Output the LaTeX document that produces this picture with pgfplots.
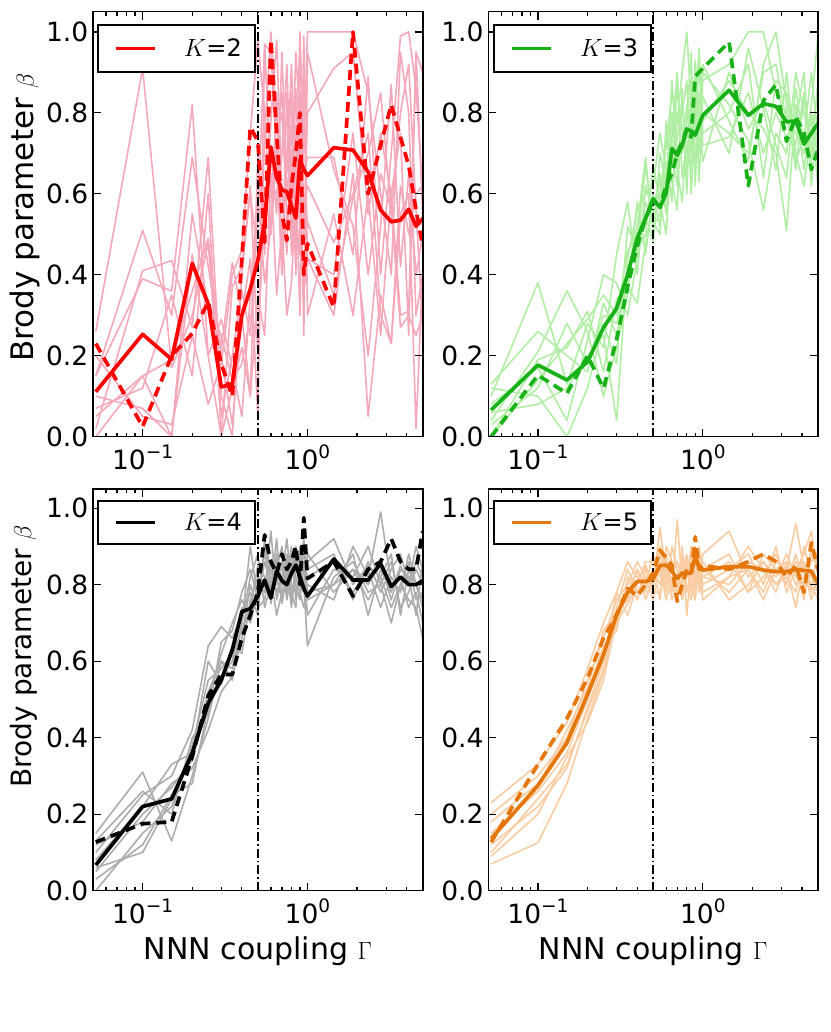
\documentclass[border=0pt]{standalone}
\usepackage{fontspec}
\setmainfont{DejaVu Sans}
\usepackage{pgfplots}
\usepackage{pgfplotstable}
\pgfplotsset{compat=1.18}

\definecolor{kred}{RGB}{255,0,0}
\definecolor{kpink}{RGB}{244,168,186}
\definecolor{kgreen}{RGB}{24,178,24}
\definecolor{klgreen}{RGB}{176,238,164}
\definecolor{kgray}{RGB}{172,172,172}
\definecolor{korange}{RGB}{228,118,10}
\definecolor{kpeach}{RGB}{250,204,162}

\newcommand{\tensup}[1]{10\raisebox{0.42em}{\fontsize{18.5}{18.5}\selectfont #1}}

% K = 2
\pgfplotstableread[header=false]{
x 0.052 0.1 0.15 0.2 0.25 0.3 0.35 0.4 0.45 0.5 0.55 0.6 0.65 0.7 0.75 0.8 0.85 0.9 0.95 1.0 1.444 1.889 2.333 2.778 3.222 3.667 4.111 4.556 5.0
m 0.111 0.253 0.191 0.428 0.328 0.123 0.130 0.30 0.365 0.436 0.53 0.716 0.64 0.61 0.605 0.57 0.54 0.685 0.66 0.645 0.714 0.708 0.654 0.56 0.531 0.535 0.562 0.520 0.539
d 0.23 0.025 0.20 0.255 0.333 0.18 0.10 0.44 0.765 0.73 0.48 0.98 0.75 0.55 0.485 0.62 0.70 0.80 0.40 0.477 0.32 1.0 0.60 0.72 0.82 0.74 0.67 0.56 0.47
t1 0.26 0.91 0.17 0.30 0.48 0.05 0.20 0.36 0.25 0.55 0.97 0.95 0.70 0.85 0.65 0.92 0.60 1.0 0.70 1.0 1.0 1.0 0.85 0.60 0.40 0.95 0.80 0.30 0.40
t2 0.15 0.51 0.30 0.69 0.42 0.22 0.43 0.30 0.10 0.70 0.45 0.78 0.98 0.60 0.45 0.80 0.47 0.96 0.65 0.69 0.69 0.45 0.89 0.40 0.70 0.99 1.0 0.86 0.60
t3 0.02 0.41 0.435 0.27 0.69 0.10 0.00 0.40 0.62 0.20 0.75 1.0 0.75 0.80 0.55 0.60 0.95 0.78 0.50 0.80 0.91 0.95 0.55 0.75 0.60 0.30 0.31 0.95 0.90
t4 0.15 0.39 0.36 0.82 0.20 0.29 0.17 0.05 0.35 0.60 0.38 0.52 0.72 0.40 0.85 0.45 0.65 0.30 0.90 0.44 0.30 0.65 0.05 0.35 0.23 0.55 0.60 0.02 0.41
t5 0.05 0.15 0.00 0.45 0.20 0.00 0.37 0.42 0.60 0.45 0.60 0.50 0.85 0.45 0.55 0.50 0.77 0.50 0.36 0.44 0.40 0.75 0.40 0.65 0.56 0.27 0.30 0.25 0.30
t6 0.10 0.07 0.00 0.55 0.32 0.25 0.14 0.18 0.30 0.25 0.55 0.70 0.55 0.95 0.60 0.71 0.40 0.85 0.56 0.62 0.48 0.60 0.75 0.30 0.23 0.62 0.50 0.60 0.62
t7 0.00 0.15 0.19 0.36 0.49 0.20 0.03 0.30 0.44 0.05 0.97 0.62 0.60 0.70 0.92 0.55 0.86 0.58 0.60 0.53 0.35 0.59 0.70 0.85 0.55 0.80 0.92 0.56 0.27
t8 0.07 0.12 0.35 0.15 0.60 0.00 0.12 0.22 0.10 0.35 0.25 0.65 0.35 0.52 0.30 0.38 0.62 0.72 0.25 0.95 0.66 0.52 0.20 0.52 0.87 0.42 0.65 0.40 0.50
t9 0.20 0.05 0.03 0.25 0.08 0.18 0.40 0.46 0.75 0.98 0.80 0.50 0.70 0.40 0.70 0.85 0.55 0.45 0.99 0.30 0.55 0.30 0.60 0.25 0.60 0.75 0.25 0.95 0.55
}\rawA
\pgfplotstabletranspose[colnames from=0]\tabA{\rawA}

% K = 3
\pgfplotstableread[header=false]{
x 0.052 0.1 0.15 0.2 0.25 0.3 0.35 0.4 0.45 0.5 0.55 0.6 0.65 0.7 0.75 0.8 0.85 0.9 0.95 1.0 1.444 1.889 2.333 2.778 3.222 3.667 4.111 4.556 5.0
m 0.066 0.177 0.14 0.185 0.27 0.317 0.40 0.49 0.54 0.588 0.566 0.602 0.712 0.695 0.72 0.76 0.755 0.745 0.77 0.794 0.856 0.794 0.823 0.816 0.778 0.78 0.723 0.75 0.774
d 0.0 0.152 0.107 0.20 0.12 0.24 0.37 0.47 0.54 0.58 0.57 0.62 0.65 0.70 0.73 0.76 0.74 0.89 0.90 0.91 0.975 0.62 0.83 0.87 0.73 0.79 0.75 0.66 0.71
t1 0.10 0.38 0.13 0.28 0.22 0.45 0.58 0.40 0.62 0.55 0.60 0.72 0.85 0.78 0.90 1.0 0.82 0.75 0.70 0.88 0.92 1.0 1.0 0.85 0.80 0.75 0.70 0.82 0.99
t2 0.13 0.26 0.20 0.16 0.33 0.25 0.40 0.52 0.69 0.50 0.65 0.55 0.70 0.62 0.84 0.68 0.78 0.90 0.76 0.80 0.75 0.70 0.90 0.92 0.78 0.72 0.85 0.68 0.78
t3 0.04 0.21 0.36 0.26 0.10 0.22 0.35 0.58 0.45 0.60 0.52 0.68 0.58 0.80 0.70 0.78 0.95 0.62 0.85 0.78 0.88 0.80 0.76 0.70 0.51 0.82 0.66 0.80 0.70
t4 0.00 0.14 0.23 0.29 0.35 0.30 0.46 0.50 0.55 0.48 0.70 0.62 0.88 0.68 0.72 0.82 0.70 0.80 0.96 0.75 0.80 0.92 0.64 0.88 0.85 0.70 0.62 0.75 0.85
t5 0.08 0.17 0.04 0.24 0.40 0.38 0.30 0.44 0.58 0.53 0.50 0.78 0.63 0.56 0.86 0.60 0.88 0.70 0.73 0.90 0.82 0.73 0.56 0.75 0.70 0.90 0.80 0.72 0.66
t6 0.12 0.10 0.00 0.12 0.28 0.18 0.52 0.46 0.50 0.67 0.58 0.50 0.74 0.90 0.64 0.73 0.66 0.85 0.63 0.84 0.70 0.96 0.81 0.66 0.90 0.68 0.74 0.90 0.74
t7 0.06 0.08 0.12 0.20 0.25 0.04 0.44 0.56 0.60 0.62 0.75 0.66 0.60 0.74 0.80 0.88 0.60 0.78 0.92 0.72 0.74 0.85 0.70 0.80 0.74 0.78 0.90 0.62 0.80
t8 0.00 0.19 0.22 0.31 0.16 0.34 0.37 0.33 0.48 0.57 0.63 0.56 0.80 0.66 0.58 0.75 0.72 0.93 0.80 0.68 0.90 0.76 0.83 0.72 0.64 0.86 0.72 0.78 0.62
t9 0.03 0.12 0.28 0.18 0.30 0.28 0.40 0.48 0.67 0.52 0.55 0.74 0.67 0.86 0.76 0.66 0.84 0.68 0.74 0.92 0.78 0.68 0.92 1.0 0.82 0.66 0.84 0.70 0.88
}\rawB
\pgfplotstabletranspose[colnames from=0]\tabB{\rawB}

% K = 4
\pgfplotstableread[header=false]{
x 0.052 0.1 0.15 0.2 0.25 0.3 0.35 0.4 0.45 0.5 0.55 0.6 0.65 0.7 0.75 0.8 0.85 0.9 0.95 1.0 1.444 1.889 2.333 2.778 3.222 3.667 4.111 4.556 5.0
m 0.067 0.22 0.24 0.36 0.49 0.55 0.63 0.73 0.737 0.77 0.812 0.765 0.835 0.81 0.80 0.83 0.851 0.82 0.79 0.77 0.867 0.812 0.812 0.855 0.795 0.82 0.80 0.80 0.81
d 0.127 0.175 0.18 0.35 0.51 0.565 0.565 0.66 0.72 0.78 0.93 0.86 0.83 0.88 0.84 0.86 0.90 0.80 0.975 0.816 0.86 0.77 0.84 0.86 0.92 0.86 0.84 0.84 0.94
t1 0.15 0.31 0.13 0.30 0.45 0.60 0.58 0.70 0.90 0.76 0.86 0.80 0.84 0.90 0.78 0.82 0.88 0.86 0.80 0.64 0.82 0.86 0.78 0.80 0.70 0.80 0.76 0.74 0.66
t2 0.10 0.25 0.30 0.42 0.64 0.69 0.66 0.72 0.78 0.72 0.92 0.75 0.88 0.80 0.86 0.76 0.84 0.90 0.83 0.86 0.92 0.80 0.85 0.82 0.88 0.72 0.84 0.80 0.76
t3 0.05 0.20 0.27 0.34 0.50 0.62 0.70 0.76 0.72 0.80 0.78 0.94 0.76 0.82 0.92 0.80 0.78 0.84 0.92 0.78 0.80 0.88 0.72 0.84 0.78 0.85 0.80 0.86 0.82
t4 0.00 0.15 0.22 0.38 0.55 0.58 0.62 0.68 0.74 0.85 0.82 0.78 0.92 0.75 0.83 0.88 0.80 0.76 0.86 0.82 0.86 0.78 0.84 0.74 0.82 0.78 0.88 0.80 0.74
t5 0.12 0.18 0.28 0.32 0.42 0.52 0.56 0.66 0.80 0.74 0.76 0.86 0.80 0.86 0.76 0.84 0.90 0.80 0.78 0.88 0.78 0.84 0.80 0.86 0.76 0.84 0.82 0.72 0.86
t6 0.03 0.12 0.25 0.28 0.48 0.56 0.60 0.74 0.70 0.78 0.88 0.82 0.72 0.78 0.88 0.78 0.74 0.88 0.84 0.72 0.84 0.82 0.90 0.80 0.86 0.74 0.78 0.84 0.80
t7 0.08 0.22 0.33 0.36 0.60 0.54 0.64 0.62 0.76 0.82 0.80 0.76 0.86 0.84 0.80 0.86 0.82 0.78 0.74 0.80 0.76 0.90 0.82 0.99 0.80 0.82 0.74 0.78 0.70
t8 0.13 0.26 0.20 0.40 0.46 0.65 0.68 0.78 0.84 0.76 0.90 0.84 0.78 0.82 0.84 0.74 0.86 0.82 0.88 0.84 0.88 0.76 0.86 0.78 0.84 0.88 0.80 0.90 0.84
t9 0.06 0.10 0.24 0.35 0.52 0.60 0.55 0.70 0.82 0.88 0.74 0.80 0.82 0.76 0.82 0.90 0.76 0.84 0.80 0.76 0.80 0.84 0.76 0.82 0.74 0.80 0.86 0.76 0.78
}\rawC
\pgfplotstabletranspose[colnames from=0]\tabC{\rawC}

% K = 5
\pgfplotstableread[header=false]{
x 0.052 0.1 0.15 0.2 0.25 0.3 0.35 0.4 0.45 0.5 0.55 0.6 0.65 0.7 0.75 0.8 0.85 0.9 0.95 1.0 1.444 1.889 2.333 2.778 3.222 3.667 4.111 4.556 5.0
m 0.136 0.275 0.387 0.513 0.617 0.721 0.78 0.808 0.808 0.815 0.85 0.851 0.835 0.816 0.83 0.83 0.83 0.873 0.845 0.838 0.847 0.847 0.838 0.834 0.834 0.84 0.837 0.835 0.803
d 0.127 0.33 0.45 0.556 0.66 0.72 0.79 0.77 0.80 0.83 0.89 0.87 0.85 0.756 0.80 0.84 0.83 0.925 0.84 0.85 0.84 0.86 0.88 0.86 0.82 0.85 0.78 0.91 0.84
t1 0.07 0.125 0.28 0.45 0.57 0.70 0.75 0.80 0.85 0.80 0.95 0.82 0.86 0.78 0.90 0.72 0.86 0.82 0.80 0.88 0.94 0.82 0.86 0.80 0.84 0.96 0.84 0.80 0.76
t2 0.23 0.33 0.44 0.58 0.70 0.78 0.86 0.82 0.78 0.84 0.80 0.88 0.78 0.97 0.80 0.86 0.78 0.90 0.84 0.80 0.84 0.88 0.80 0.90 0.78 0.84 0.88 0.94 0.82
t3 0.20 0.30 0.40 0.55 0.66 0.76 0.80 0.86 0.82 0.76 0.86 0.78 0.90 0.84 0.76 0.82 0.88 0.78 0.86 0.82 0.80 0.86 0.84 0.78 0.86 0.80 0.82 0.86 0.88
t4 0.15 0.26 0.36 0.50 0.62 0.74 0.84 0.78 0.80 0.88 0.82 0.86 0.80 0.82 0.86 0.78 0.84 0.86 0.80 0.84 0.88 0.78 0.88 0.84 0.80 0.88 0.78 0.84 0.80
t5 0.10 0.24 0.33 0.47 0.58 0.72 0.78 0.84 0.76 0.82 0.90 0.80 0.84 0.86 0.82 0.88 0.80 0.76 0.88 0.78 0.82 0.84 0.78 0.86 0.84 0.74 0.86 0.78 0.90
t6 0.18 0.28 0.38 0.52 0.64 0.68 0.82 0.76 0.84 0.78 0.78 0.84 0.76 0.80 0.84 0.80 0.76 0.84 0.82 0.86 0.76 0.80 0.86 0.82 0.88 0.82 0.80 0.88 0.84
t7 0.12 0.22 0.32 0.48 0.60 0.78 0.72 0.80 0.86 0.86 0.84 0.76 0.82 0.78 0.88 0.84 0.82 0.88 0.78 0.82 0.86 0.78 0.82 0.88 0.80 0.86 0.84 0.76 0.82
t8 0.14 0.27 0.42 0.53 0.68 0.73 0.76 0.84 0.80 0.84 0.76 0.90 0.86 0.84 0.78 0.82 0.90 0.80 0.84 0.76 0.82 0.90 0.84 0.80 0.82 0.78 0.90 0.82 0.78
t9 0.09 0.20 0.35 0.44 0.55 0.71 0.79 0.78 0.82 0.80 0.88 0.82 0.80 0.76 0.82 0.86 0.78 0.82 0.90 0.84 0.78 0.84 0.76 0.84 0.86 0.84 0.76 0.90 0.86
}\rawD
\pgfplotstabletranspose[colnames from=0]\tabD{\rawD}

\pgfplotsset{
  every axis/.append style={
    xmode=log, xmin=0.05, xmax=5, ymin=0, ymax=1.05,
    scale only axis, width=329.7pt,
    axis on top,
    axis line style={line width=1.6pt},
    every tick/.style={black, line width=1.2pt},
    major tick length=8pt, minor tick length=4pt,
    tick align=inside,
    xtick={0.1,1}, xticklabels={\tensup{−1},\tensup{0}},
    minor xtick={0.06,0.07,0.08,0.09,0.2,0.3,0.4,0.5,0.6,0.7,0.8,0.9,2,3,4},
    ytick={0,0.2,0.4,0.6,0.8,1.0},
    yticklabels={0.0,0.2,0.4,0.6,0.8,1.0},
    ticklabel style={font=\fontsize{26.5}{31}\selectfont},
    yticklabel style={inner sep=0pt, xshift=-4.6pt},
    xticklabel style={inner sep=0pt, yshift=-8pt},
    legend style={at={(0,1)}, anchor=north west,
      draw=black, line width=1.8pt, fill=white, inner sep=0pt,
      font=\fontsize{24}{29}\selectfont,
      nodes={inner sep=0pt}, cells={anchor=west}},
  },
}

\begin{document}
\begin{tikzpicture}
\path[use as bounding box] (0,0) rectangle (830pt,1032pt);

% top left: K=2
\begin{axis}[at={(93pt,595.3pt)}, anchor=south west, height=425pt,
  legend image code/.code={\path[draw=none,fill=none] (0pt,-23.5pt) rectangle (86pt,23.5pt); \draw[#1,solid] (18pt,0pt) -- (57pt,0pt);},
  legend style={xshift=4pt, yshift=-12.3pt},
  ylabel={Brody parameter $\beta$},
  ylabel style={font=\fontsize{31}{37}\selectfont, at={(axis description cs:-0.2517,0.516)}, anchor=north, inner sep=0pt}]
\pgfplotsinvokeforeach{1,...,9}{\addplot[kpink, line width=1.6pt, line join=round, forget plot] table[x=x,y=t#1]{\tabA};}
\addplot[black, line width=1.5pt, dash pattern=on 9pt off 3pt on 1.5pt off 3pt, forget plot] coordinates {(0.5,0) (0.5,1.05)};
\addplot[kred, line width=3.7pt, line join=round, dash pattern=on 10pt off 6pt, forget plot] table[x=x,y=d]{\tabA};
\addplot[kred, line width=3.7pt, line join=round] table[x=x,y=m]{\tabA};
\addlegendentry{$K$=2\kern13pt}
\end{axis}

% top right: K=3
\begin{axis}[at={(488.3pt,595.3pt)}, anchor=south west, height=425pt,
  legend image code/.code={\path[draw=none,fill=none] (0pt,-23.5pt) rectangle (86pt,23.5pt); \draw[#1,solid] (18pt,0pt) -- (57pt,0pt);},
  legend style={xshift=5pt, yshift=-12.3pt}]
\pgfplotsinvokeforeach{1,...,9}{\addplot[klgreen, line width=1.6pt, line join=round, forget plot] table[x=x,y=t#1]{\tabB};}
\addplot[black, line width=1.5pt, dash pattern=on 9pt off 3pt on 1.5pt off 3pt, forget plot] coordinates {(0.5,0) (0.5,1.05)};
\addplot[kgreen, line width=3.7pt, line join=round, dash pattern=on 10pt off 6pt, forget plot] table[x=x,y=d]{\tabB};
\addplot[kgreen, line width=3.7pt, line join=round] table[x=x,y=m]{\tabB};
\addlegendentry{$K$=3\kern13pt}
\end{axis}

% bottom left: K=4
\begin{axis}[at={(93pt,141.3pt)}, anchor=south west, height=401.7pt,
  legend image code/.code={\path[draw=none,fill=none] (0pt,-21.5pt) rectangle (86pt,21.5pt); \draw[#1,solid] (18pt,0pt) -- (57pt,0pt);},
  legend style={xshift=4pt, yshift=-11pt},
  ylabel={Brody parameter $\beta$},
  ylabel style={font=\fontsize{28}{33}\selectfont, at={(axis description cs:-0.2517,0.584)}, anchor=north, inner sep=0pt},
  xlabel={NNN coupling $\Gamma$},
  xlabel style={font=\fontsize{30}{35}\selectfont, at={(axis description cs:0.5,0)}, anchor=north, yshift=-46pt, inner sep=0pt}]
\pgfplotsinvokeforeach{1,...,9}{\addplot[kgray, line width=1.6pt, line join=round, forget plot] table[x=x,y=t#1]{\tabC};}
\addplot[black, line width=1.5pt, dash pattern=on 9pt off 3pt on 1.5pt off 3pt, forget plot] coordinates {(0.5,0) (0.5,1.05)};
\addplot[black, line width=3.7pt, line join=round, dash pattern=on 10pt off 6pt, forget plot] table[x=x,y=d]{\tabC};
\addplot[black, line width=3.7pt, line join=round] table[x=x,y=m]{\tabC};
\addlegendentry{$K$=4\kern13pt}
\end{axis}

% bottom right: K=5
\begin{axis}[at={(488.3pt,141.3pt)}, anchor=south west, height=401.7pt,
  legend image code/.code={\path[draw=none,fill=none] (0pt,-21.5pt) rectangle (86pt,21.5pt); \draw[#1,solid] (18pt,0pt) -- (57pt,0pt);},
  legend style={xshift=5pt, yshift=-11pt},
  xlabel={NNN coupling $\Gamma$},
  xlabel style={font=\fontsize{30}{35}\selectfont, at={(axis description cs:0.5,0)}, anchor=north, yshift=-46pt, inner sep=0pt}]
\pgfplotsinvokeforeach{1,...,9}{\addplot[kpeach, line width=1.6pt, line join=round, forget plot] table[x=x,y=t#1]{\tabD};}
\addplot[black, line width=1.5pt, dash pattern=on 9pt off 3pt on 1.5pt off 3pt, forget plot] coordinates {(0.5,0) (0.5,1.05)};
\addplot[korange, line width=3.7pt, line join=round, dash pattern=on 10pt off 6pt, forget plot] table[x=x,y=d]{\tabD};
\addplot[korange, line width=3.7pt, line join=round] table[x=x,y=m]{\tabD};
\addlegendentry{$K$=5\kern13pt}
\end{axis}
\end{tikzpicture}
\end{document}
